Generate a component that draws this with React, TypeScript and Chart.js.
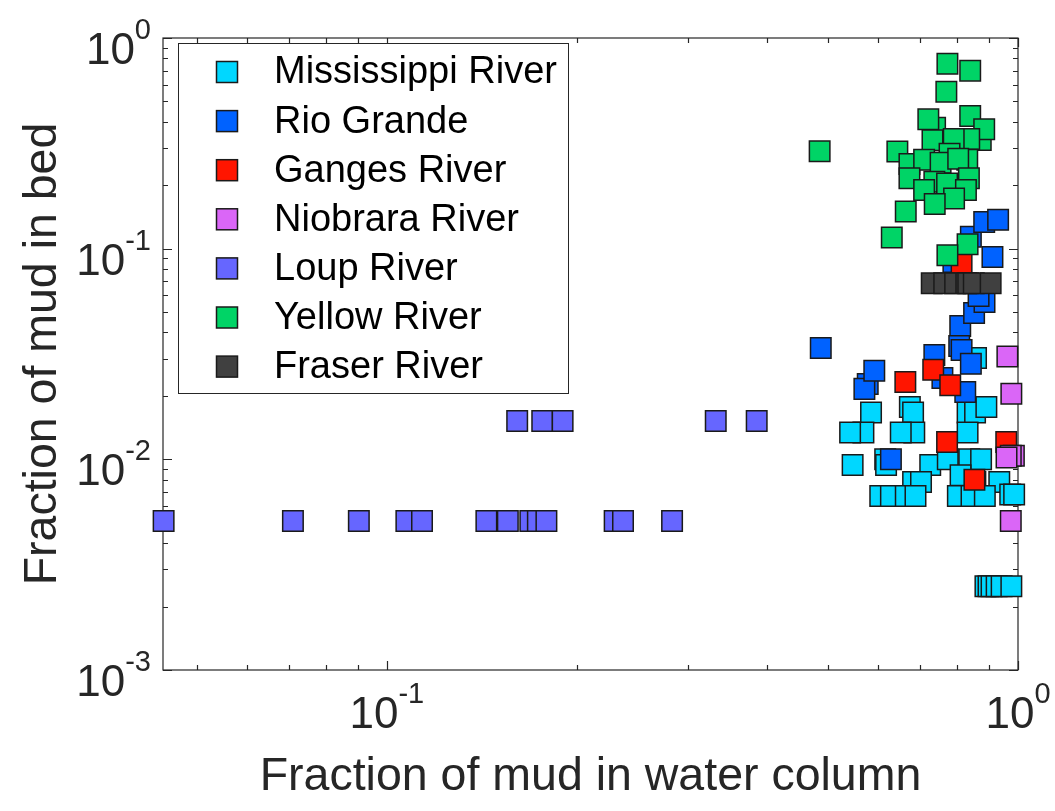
import React, { useEffect, useRef } from 'react';
import { Chart, registerables } from 'chart.js';

Chart.register(...registerables);

// ---------- data ----------
const seriesNames = ['Mississippi River', 'Rio Grande', 'Ganges River', 'Niobrara River', 'Loup River', 'Yellow River', 'Fraser River'];
const seriesColors = ['#00D7FF', '#0062FF', '#FF1500', '#DA66F7', '#6666FF', '#00D466', '#404040'];

const mississippiX = [0.858, 0.585, 0.674, 0.682, 0.832, 0.855, 0.891, 0.569, 0.542, 0.685, 0.652, 0.832, 0.547, 0.616, 0.618, 0.726, 0.774, 0.837, 0.874, 0.682, 0.702, 0.811, 0.856, 0.934, 0.605, 0.629, 0.664, 0.688, 0.803, 0.844, 0.886, 0.972, 0.986, 0.888, 0.898, 0.908, 0.925, 0.942, 0.976];
const mississippiY = [0.0303, 0.0167, 0.0177, 0.0167, 0.0167, 0.0167, 0.0177, 0.0134, 0.0134, 0.0134, 0.0134, 0.0134, 0.0094, 0.0100, 0.0094, 0.0094, 0.0100, 0.0100, 0.0100, 0.0078, 0.0078, 0.0084, 0.0078, 0.0078, 0.0067, 0.0067, 0.0067, 0.0067, 0.0067, 0.0067, 0.0067, 0.0068, 0.0068, 0.0025, 0.0025, 0.0025, 0.0025, 0.0025, 0.0025];

const rioGrandeX = [0.487, 0.578, 0.571, 0.592, 0.737, 0.759, 0.790, 0.810, 0.807, 0.814, 0.825, 0.842, 0.842, 0.852, 0.884, 0.885, 0.911, 0.930, 0.629, 0.866];
const rioGrandeY = [0.0338, 0.0228, 0.0216, 0.0263, 0.0313, 0.0243, 0.0865, 0.043, 0.0345, 0.033, 0.0209, 0.0284, 0.114, 0.0495, 0.134, 0.0558, 0.0913, 0.137, 0.0100, 0.0596];

const gangesX = [0.814, 0.734, 0.663, 0.781, 0.772, 0.958, 0.853];
const gangesY = [0.0846, 0.0266, 0.0233, 0.0225, 0.0121, 0.0121, 0.0080];

const niobraraX = [0.962, 0.976, 0.985, 0.974, 0.959, 0.974];
const niobraraY = [0.0308, 0.0205, 0.0104, 0.0104, 0.0102, 0.0051];

const loupX = [0.0443, 0.0710, 0.0903, 0.1074, 0.1137, 0.1438, 0.1555, 0.1688, 0.1735, 0.1790, 0.2296, 0.2367, 0.2831, 0.1609, 0.1763, 0.1899, 0.3320, 0.3855];
const loupY = [0.0051, 0.0051, 0.0051, 0.0051, 0.0051, 0.0051, 0.0051, 0.0051, 0.0051, 0.0051, 0.0051, 0.0051, 0.0051, 0.0152, 0.0152, 0.0152, 0.0152, 0.0152];

const yellowX = [0.485, 0.773, 0.840, 0.770, 0.739, 0.721, 0.840, 0.873, 0.884, 0.837, 0.791, 0.732, 0.644, 0.673, 0.710, 0.779, 0.754, 0.831, 0.804, 0.673, 0.737, 0.710, 0.772, 0.836, 0.827, 0.792, 0.738, 0.664, 0.631, 0.832, 0.773];
const yellowY = [0.290, 0.755, 0.700, 0.556, 0.375, 0.411, 0.426, 0.328, 0.369, 0.332, 0.332, 0.327, 0.289, 0.252, 0.264, 0.282, 0.256, 0.264, 0.267, 0.216, 0.208, 0.190, 0.204, 0.216, 0.190, 0.173, 0.163, 0.150, 0.113, 0.105, 0.093];

const fraserX = [0.730, 0.764, 0.795, 0.828, 0.834, 0.851, 0.905];
const fraserY = [0.0685, 0.0685, 0.0685, 0.0685, 0.0685, 0.0685, 0.0685];

const seriesX = [mississippiX, rioGrandeX, gangesX, niobraraX, loupX, yellowX, fraserX];
const seriesY = [mississippiY, rioGrandeY, gangesY, niobraraY, loupY, yellowY, fraserY];

// axis ticks
const xMajorTicks = [0.1, 1];
const xTickExponents = ['-1', '0'];
const yMajorTicks = [0.001, 0.01, 0.1, 1];
const yTickExponents = ['-3', '-2', '-1', '0'];
const xTitle = 'Fraction of mud in water column';
const yTitle = 'Fraction of mud in bed';

const X_MIN = 0.0442;
const X_MAX = 1;
const Y_MIN = 0.001;
const Y_MAX = 1;

const FONT = '"Liberation Sans", Arial, Helvetica, sans-serif';
const AXIS_COLOR = '#262626';

function minorTicks(min: number, max: number): number[] {
  const out: number[] = [];
  for (let d = Math.floor(Math.log10(min)); d < Math.ceil(Math.log10(max)); d++) {
    for (let m = 2; m <= 9; m++) {
      const v = m * Math.pow(10, d);
      if (v >= min && v <= max) out.push(v);
    }
  }
  return out;
}

function drawPow(ctx: CanvasRenderingContext2D, exp: string, x: number, baseline: number, align: 'center' | 'right') {
  const baseFont = `44px ${FONT}`;
  const expFont = `29px ${FONT}`;
  ctx.font = baseFont;
  const wb = ctx.measureText('10').width;
  ctx.font = expFont;
  const we = ctx.measureText(exp).width;
  const w = wb + we;
  const start = align === 'center' ? x - w / 2 : x - w;
  ctx.textAlign = 'left';
  ctx.textBaseline = 'alphabetic';
  ctx.font = baseFont;
  ctx.fillText('10', start, baseline);
  ctx.font = expFont;
  ctx.fillText(exp, start + wb, baseline - 25);
}

const matlabAxes = {
  id: 'matlabAxes',
  beforeDatasetsDraw(chart: any) {
    const { ctx, chartArea: a, scales } = chart;
    const xs = scales.x;
    const ys = scales.y;
    ctx.save();
    ctx.strokeStyle = AXIS_COLOR;
    ctx.lineWidth = 1.2;
    ctx.strokeRect(a.left, a.top, a.right - a.left, a.bottom - a.top);
    const xMin = minorTicks(X_MIN, X_MAX);
    const yMin = minorTicks(Y_MIN, Y_MAX);
    ctx.beginPath();
    const xt = (v: number, len: number) => {
      const p = Math.round(xs.getPixelForValue(v)) + 0.5;
      ctx.moveTo(p, a.bottom); ctx.lineTo(p, a.bottom - len);
      ctx.moveTo(p, a.top); ctx.lineTo(p, a.top + len);
    };
    const yt = (v: number, len: number) => {
      const p = Math.round(ys.getPixelForValue(v)) + 0.5;
      ctx.moveTo(a.left, p); ctx.lineTo(a.left + len, p);
      ctx.moveTo(a.right, p); ctx.lineTo(a.right - len, p);
    };
    xMajorTicks.forEach((v) => xt(v, 9));
    xMin.forEach((v) => xt(v, 5));
    yMajorTicks.forEach((v) => yt(v, 9));
    yMin.forEach((v) => yt(v, 5));
    ctx.stroke();

    // tick labels
    ctx.fillStyle = AXIS_COLOR;
    xMajorTicks.forEach((v, i) => {
      drawPow(ctx, xTickExponents[i], xs.getPixelForValue(v), a.bottom + 58, 'center');
    });
    yMajorTicks.forEach((v, i) => {
      drawPow(ctx, yTickExponents[i], a.left - 12, ys.getPixelForValue(v) + 26, 'right');
    });

    // axis titles
    ctx.font = `46.5px ${FONT}`;
    ctx.textAlign = 'center';
    ctx.textBaseline = 'alphabetic';
    ctx.fillText(xTitle, (a.left + a.right) / 2, 790);
    ctx.save();
    ctx.translate(56, (a.top + a.bottom) / 2);
    ctx.rotate(-Math.PI / 2);
    ctx.fillText(yTitle, 0, 0);
    ctx.restore();
    ctx.restore();
  },
  afterDatasetsDraw(chart: any) {
    const { ctx } = chart;
    ctx.save();
    const bx = 178, by = 43, bw = 390, bh = 350;
    ctx.fillStyle = '#ffffff';
    ctx.fillRect(bx, by, bw, bh);
    ctx.strokeStyle = '#262626';
    ctx.lineWidth = 1;
    ctx.strokeRect(bx + 0.5, by + 0.5, bw, bh);
    seriesNames.forEach((name, i) => {
      const cy = 72 + i * 49.1;
      const s = 21;
      ctx.fillStyle = seriesColors[i];
      ctx.fillRect(227 - s / 2, cy - s / 2, s, s);
      ctx.strokeStyle = '#1a1a1a';
      ctx.lineWidth = 1.5;
      ctx.strokeRect(227 - s / 2, cy - s / 2, s, s);
      ctx.fillStyle = '#000000';
      ctx.font = `38px ${FONT}`;
      ctx.textAlign = 'left';
      ctx.textBaseline = 'middle';
      ctx.fillText(name, 274, cy + 1);
    });
    ctx.restore();
  },
};

export default function App() {
  const ref = useRef<HTMLCanvasElement | null>(null);
  useEffect(() => {
    if (!ref.current) return;
    const datasets = seriesNames.map((name, i) => ({
      label: name,
      data: seriesX[i].map((x, j) => ({ x, y: seriesY[i][j] })),
      pointStyle: 'rect' as const,
      pointRadius: 14.5,
      pointHoverRadius: 14.5,
      backgroundColor: seriesColors[i],
      borderColor: '#1a1a1a',
      borderWidth: 1.5,
      showLine: false,
      clip: false as any,
      order: seriesNames.length - 1 - i,
    }));
    const chart = new Chart(ref.current, {
      type: 'scatter',
      data: { datasets },
      options: {
        responsive: false,
        maintainAspectRatio: false,
        devicePixelRatio: 1,
        animation: false,
        events: [],
        layout: { padding: { left: 163, top: 38, right: 37, bottom: 141 } },
        plugins: { legend: { display: false }, tooltip: { enabled: false } },
        scales: {
          x: { type: 'logarithmic', min: X_MIN, max: X_MAX, display: false },
          y: { type: 'logarithmic', min: Y_MIN, max: Y_MAX, display: false },
        },
      },
      plugins: [matlabAxes],
    });
    return () => chart.destroy();
  }, []);
  return (
    <div style={{ position: 'fixed', left: 0, top: 0, width: 1055, height: 811, background: '#fff' }}>
      <canvas ref={ref} width={1055} height={811} style={{ display: 'block' }} />
    </div>
  );
}
